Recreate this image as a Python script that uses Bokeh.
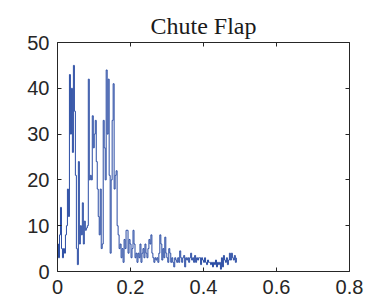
from bokeh.plotting import figure
from bokeh.models import LinearAxis, Range1d, FixedTicker
from bokeh.embed import file_html
from bokeh.resources import INLINE
import numpy as np

title_text = "Chute Flap"
x_ticks = [0, 0.2, 0.4, 0.6, 0.8]
y_ticks = [0, 10, 20, 30, 40, 50]
t_end = 0.49
values = [
    6, 3, 8, 14, 5, 3, 5, 4, 8, 10, 18, 12, 43, 30, 40, 26, 45, 35,
    21, 5, 1.5, 24, 6, 10, 8, 15, 6, 11, 9, 9.5, 10, 42, 20, 21, 20,
    34, 27, 30, 33, 24, 18, 12, 8, 18, 5, 6, 33, 27, 20, 44, 30,
    42, 21, 4, 20, 33, 41, 18, 21, 22, 10, 8, 5, 6, 3,
    5, 2, 7, 5, 9, 9, 4, 7, 6, 3, 5, 9, 6, 3, 4, 2,
    4, 3, 6, 2, 4, 5, 3, 6, 4, 3, 5, 7,
    6, 8, 4, 3, 2, 3, 2.5, 3, 2, 4,
    8, 6, 2.5, 5, 3, 7.5, 4, 3, 2, 5,
    4, 2, 3, 2, 1, 3, 2.5, 2, 3, 2,
    4.5, 3, 2, 3, 3.5, 1, 3, 2.5, 3, 2,
    3, 4, 2.5, 3, 2, 3.5, 2, 3, 2.5, 3,
    3, 1.5, 3, 2.5, 2, 3, 2, 1.5, 2.5, 2,
    2, 1.5, 2, 1, 2, 1.5, 2.5, 1, 2, 1.5,
    2, 0.5, 3, 1, 3.5, 2.5, 2, 3, 1.5, 2.5,
    4, 2.5, 4, 3, 2.5, 3.5, 2, 3,
]
times = list(np.linspace(0, t_end, len(values)))

axis_color = "#262626"
p = figure(width=377, height=299, output_backend="svg", toolbar_location=None,
           x_range=Range1d(0, 0.8), y_range=Range1d(0, 50),
           min_border_left=57, min_border_right=28, min_border_top=42,
           min_border_bottom=28, x_axis_location=None, y_axis_location=None)
p.grid.visible = False
p.outline_line_color = None
p.background_fill_color = "white"
p.border_fill_color = "white"

p.title.text = title_text
p.title.text_font = "Liberation Serif"
p.title.text_font_size = "24px"
p.title.text_font_style = "normal"
p.title.align = "center"
p.title.text_color = "#1a1a1a"
p.title.offset = 0
p.title.standoff = 8

def mk_axis(ticks, labels=True, overrides=None):
    ax = LinearAxis(ticker=FixedTicker(ticks=ticks))
    ax.axis_line_color = axis_color
    ax.axis_line_width = 1
    ax.major_tick_line_color = axis_color
    ax.major_tick_in = 4
    ax.major_tick_out = 0
    ax.minor_tick_line_color = None
    if labels:
        ax.major_label_text_font = "Liberation Sans"
        ax.major_label_text_font_size = "20px"
        ax.major_label_text_color = axis_color
        if overrides:
            ax.major_label_overrides = overrides
    else:
        ax.major_label_text_font_size = "0px"
        ax.major_label_text_alpha = 0
    return ax

xb = mk_axis(x_ticks, True, {0: "0", 0.2: "0.2", 0.4: "0.4", 0.6: "0.6", 0.8: "0.8"})
xb.major_label_standoff = 8
yl = mk_axis(y_ticks, True, {v: str(v) for v in y_ticks})
yl.major_label_standoff = 8
xt = mk_axis(x_ticks, False)
yr = mk_axis(y_ticks, False)
p.add_layout(xb, "below")
p.add_layout(yl, "left")
p.add_layout(xt, "above")
p.add_layout(yr, "right")

p.step(times, values, mode="after", line_color="#2a4ca4", line_width=1)

open("out.html", "w").write(file_html(p, INLINE))
